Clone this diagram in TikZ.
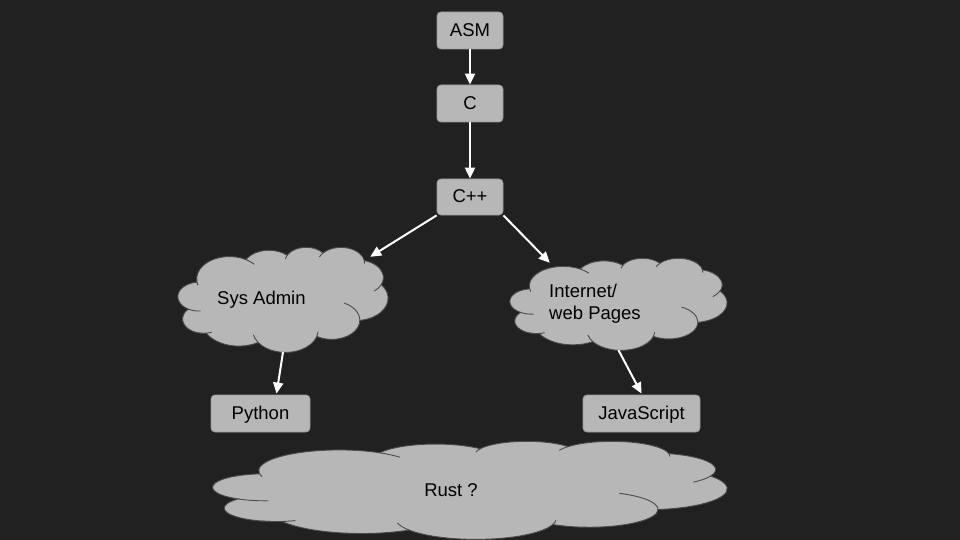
\documentclass[tikz,border=0pt]{standalone}
\usepackage{fontspec}
\setmainfont{Liberation Sans}
\usetikzlibrary{arrows.meta}
\definecolor{bg}{HTML}{212121}
\definecolor{boxfill}{HTML}{B7B7B7}
\definecolor{boxline}{HTML}{9A9A9A}
\definecolor{cloudline}{HTML}{4A4A4A}
\tikzset{
  langbox/.style={draw=boxline, fill=boxfill, rounded corners=4pt, line width=0.8pt,
    minimum height=37pt, inner sep=0pt, text depth=1pt, font=\fontsize{18.5}{21}\selectfont},
  cloudbody/.style={fill=boxfill, draw=cloudline, line width=0.9pt},
  cloudinner/.style={draw=cloudline, line width=0.9pt},
  cloudarea/.style={inner sep=0pt, draw=none},
  txt/.style={font=\fontsize{18.5}{22}\selectfont, inner sep=0pt, text=black},
  link/.style={draw=white, line width=2pt, -{Triangle[length=11pt,width=10pt]}}
}
% Google-style cloud: #1,#2 = top-left corner (px), #3,#4 = width/100, height/100
\newcommand\gcloud[4]{%
\begin{scope}[shift={(#1,#2)}, x=#3pt, y=-#4pt]
\path[cloudbody] (9.028,33.264)
  arc[start angle=172.25, delta angle=128.12, x radius=15.632, y radius=21.273]
  arc[start angle=-152.03, delta angle=106.60, x radius=12.345, y radius=16.822]
  arc[start angle=-153.49, delta angle=116.18, x radius=10.104, y radius=13.762]
  arc[start angle=-139.71, delta angle=129.50, x radius=11.243, y radius=15.266]
  arc[start angle=-74.77, delta angle=97.98, x radius=12.345, y radius=16.836]
  arc[start angle=-37.51, delta angle=119.37, x radius=15.683, y radius=21.343]
  arc[start angle=0.46, delta angle=121.52, x radius=13.391, y radius=18.211]
  arc[start angle=16.84, delta angle=129.39, x radius=15.630, y radius=21.331]
  arc[start angle=58.99, delta angle=91.21, x radius=17.870, y radius=24.405]
  arc[start angle=83.31, delta angle=139.79, x radius=10.093, y radius=13.699]
  arc[start angle=120.35, delta angle=143.76, x radius=10.058, y radius=13.762]
  -- cycle;
\draw[cloudinner] (9.979,47.264) ++(85.54:10.058 and 13.762)
  arc[start angle=85.54, end angle=120.35, x radius=10.058, y radius=13.762];
\draw[cloudinner] (12.264,68.498) ++(68.22:10.093 and 13.699)
  arc[start angle=68.22, end angle=107.12, x radius=10.093, y radius=13.699];
\draw[cloudinner] (51.146,79.037) ++(146.23:15.630 and 21.331)
  arc[start angle=146.23, end angle=167.47, x radius=15.630, y radius=21.331];
\draw[cloudinner] (51.146,79.037) ++(4.74:15.630 and 21.331)
  arc[start angle=4.74, end angle=16.84, x radius=15.630, y radius=21.331];
\draw[cloudinner] (73.199,69.771) ++(-63.99:13.391 and 18.211)
  arc[start angle=-63.99, end angle=0.46, x radius=13.391, y radius=18.211];
\draw[cloudinner] (85.465,29.160) ++(23.21:12.345 and 16.836)
  arc[start angle=23.21, end angle=49.65, x radius=12.345, y radius=16.836];
\draw[cloudinner] (77.644,15.620) ++(-10.21:11.243 and 15.266)
  arc[start angle=-10.21, end angle=0.82, x radius=11.243, y radius=15.266];
\draw[cloudinner] (77.644,15.620) ++(-156.28:11.243 and 15.266)
  arc[start angle=-156.28, end angle=-139.71, x radius=11.243, y radius=15.266];
\draw[cloudinner] (61.030,14.090) ++(-167.72:10.104 and 13.762)
  arc[start angle=-167.72, end angle=-153.49, x radius=10.104, y radius=13.762];
\draw[cloudinner] (24.516,30.398) ++(-59.63:15.632 and 21.273)
  arc[start angle=-59.63, end angle=-40.80, x radius=15.632, y radius=21.273];
\draw[cloudinner] (24.516,30.398) ++(163.19:15.632 and 21.273)
  arc[start angle=163.19, end angle=172.25, x radius=15.632, y radius=21.273];
\end{scope}}
\begin{document}
\begin{tikzpicture}[x=1pt,y=-1pt]
\fill[bg] (0,0) rectangle (960,540);
\useasboundingbox (0,0) rectangle (960,540);
% clouds
\gcloud{178}{247}{2.10}{1.05}
\node[cloudarea, minimum width=210pt, minimum height=105pt] (sysadmin) at (283,299.5) {};
\node[txt, anchor=west] (sysadmintxt) at (217,300) {Sys Admin};
\gcloud{510}{258}{2.17}{0.92}
\node[cloudarea, minimum width=217pt, minimum height=92pt] (internet) at (618.5,304) {};
\node[txt, anchor=west, align=left] (internettxt) at (549,304) {Internet/\\web Pages};
\gcloud{213}{441}{5.14}{0.98}
\node[cloudarea, minimum width=514pt, minimum height=98pt] (rust) at (470,490) {};
\node[txt] (rusttxt) at (451,490) {Rust ?};
% boxes
\node[langbox, minimum width=66pt] (asm) at (470,30.5) {ASM};
\node[langbox, minimum width=66pt] (c) at (470,103.5) {C};
\node[langbox, minimum width=66pt, minimum height=36pt] (cpp) at (470,197) {C++};
\node[langbox, minimum width=99pt] (python) at (260.5,413.5) {Python};
\node[langbox, minimum width=117pt] (js) at (641.5,413.5) {JavaScript};
% connectors
\draw[link] (asm) -- (c);
\draw[link] (c) -- (cpp);
\draw[link] (cpp.south west) -- ([xshift=-18pt,yshift=-10pt]sysadmin.north east);
\draw[link] (cpp.south east) -- ([xshift=40pt,yshift=-5pt]internet.north west);
\draw[link] (sysadmin.south) -- ([xshift=16pt,yshift=1pt]python.north);
\draw[link] (internet.south) -- ([yshift=1pt]js.north);
\end{tikzpicture}
\end{document}
